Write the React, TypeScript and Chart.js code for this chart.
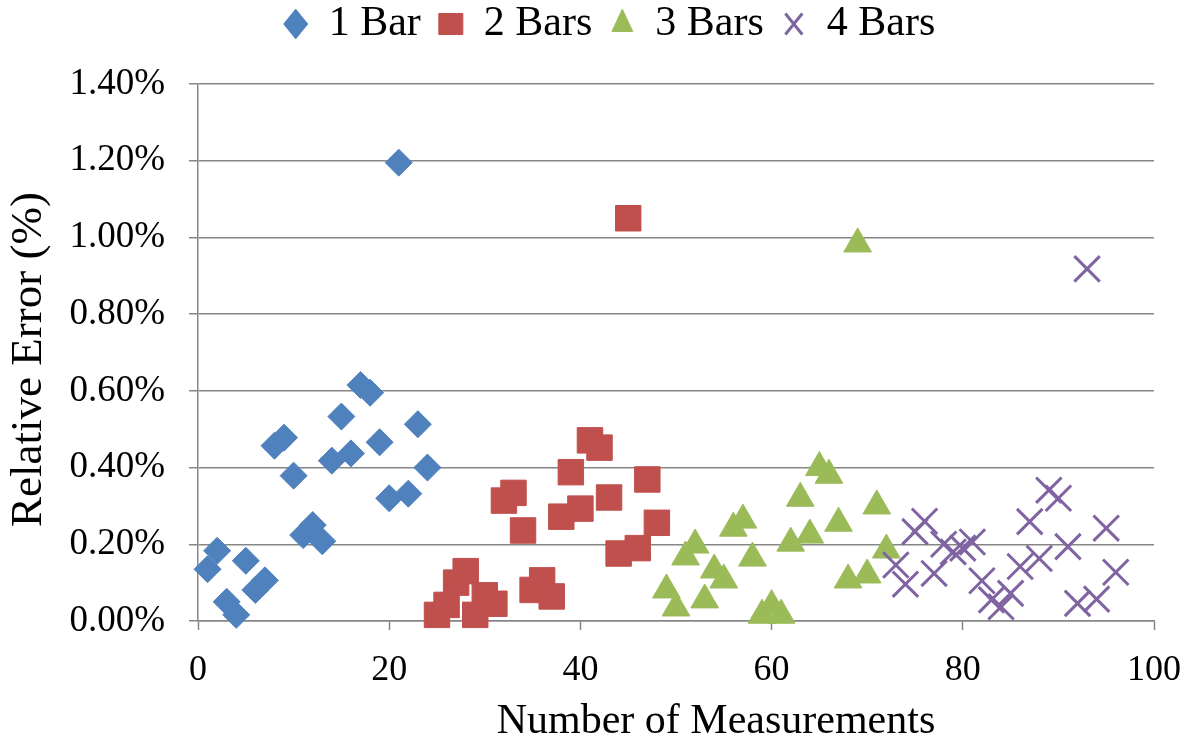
import React, { useEffect, useRef } from 'react';
import { Chart, registerables } from 'chart.js';

Chart.register(...registerables);

const seriesNames = ['1 Bar', '2 Bars', '3 Bars', '4 Bars'];

const bar1X = [1, 2, 3, 4, 5, 6, 7, 8, 9, 10, 11, 12, 13, 14, 15, 16, 17, 18, 19, 20, 21, 22, 23, 24];
const bar1Y = [0.135, 0.183, 0.05, 0.016, 0.157, 0.081, 0.106, 0.457, 0.478, 0.379, 0.224, 0.25, 0.208, 0.418, 0.533, 0.437, 0.615, 0.595, 0.466, 0.32, 1.195, 0.332, 0.513, 0.4];

const bar2X = [25, 26, 27, 28, 29, 30, 31, 32, 33, 34, 35, 36, 37, 38, 39, 40, 41, 42, 43, 44, 45, 46, 47, 48];
const bar2Y = [0.016, 0.042, 0.1, 0.13, 0.016, 0.067, 0.045, 0.314, 0.334, 0.236, 0.081, 0.106, 0.064, 0.272, 0.388, 0.293, 0.471, 0.452, 0.322, 0.176, 1.05, 0.19, 0.369, 0.256];

const bar3X = [49, 50, 51, 52, 53, 54, 55, 56, 57, 58, 59, 60, 61, 62, 63, 64, 65, 66, 67, 68, 69, 70, 71, 72];
const bar3Y = [0.081, 0.034, 0.167, 0.198, 0.055, 0.133, 0.107, 0.242, 0.263, 0.164, 0.015, 0.04, 0.015, 0.203, 0.32, 0.224, 0.4, 0.38, 0.255, 0.107, 0.983, 0.12, 0.3, 0.185];

const bar4X = [73, 74, 75, 76, 77, 78, 79, 80, 81, 82, 83, 84, 85, 86, 87, 88, 89, 90, 91, 92, 93, 94, 95, 96];
const bar4Y = [0.146, 0.096, 0.233, 0.26, 0.124, 0.2, 0.18, 0.19, 0.206, 0.105, 0.055, 0.037, 0.072, 0.142, 0.259, 0.163, 0.341, 0.32, 0.194, 0.046, 0.918, 0.057, 0.242, 0.127];

const xTickValues = [0, 20, 40, 60, 80, 100];
const yTickValues = [0, 0.2, 0.4, 0.6, 0.8, 1.0, 1.2, 1.4];

const FONT = '"Liberation Serif", "Times New Roman", "DejaVu Serif", serif';
const GRID = '#868686';
const BLUE = '#4F81BD';
const RED = '#C0504D';
const GREEN = '#9BBB59';
const PURPLE = '#8064A2';

const LEGEND_GAP = 29;
const LEGEND_SHIFT = 24;
const X_TITLE_SHIFT = 40;
const Y_TITLE_SHIFT = 7;

function shiftTitle(scale: any, dx: number, dy: number) {
  if (!scale || scale._titleShifted) return;
  const orig = scale.drawTitle.bind(scale);
  scale.drawTitle = () => {
    const ctx = scale.ctx;
    ctx.save();
    ctx.translate(dx, dy);
    orig();
    ctx.restore();
  };
  scale._titleShifted = true;
}

const layoutTweaks = {
  id: 'layoutTweaks',
  beforeInit(chart: any) {
    const legend = chart.legend;
    if (legend && !legend._patched) {
      const fit = legend.fit.bind(legend);
      legend.fit = () => {
        fit();
        legend.height += LEGEND_GAP;
      };
      legend._patched = true;
    }
  },
  afterLayout(chart: any) {
    const l = chart.legend;
    if (l) {
      l.left += LEGEND_SHIFT;
      l.right += LEGEND_SHIFT;
    }
  },
  beforeDraw(chart: any) {
    shiftTitle(chart.scales.x, X_TITLE_SHIFT, 0);
    shiftTitle(chart.scales.y, 0, Y_TITLE_SHIFT);
  },
};

function toPoints(xs: number[], ys: number[]) {
  return xs.map((x, i) => ({ x, y: ys[i] }));
}

function buildChart(canvas: HTMLCanvasElement) {
  return new Chart(canvas, {
    type: 'scatter',
    data: {
      datasets: [
        {
          label: seriesNames[0],
          data: toPoints(bar1X, bar1Y),
          pointStyle: 'rectRot',
          pointRadius: 13.5,
          backgroundColor: BLUE,
          borderColor: BLUE,
          borderWidth: 1,
          pointBackgroundColor: BLUE,
          pointBorderColor: BLUE,
          pointBorderWidth: 1,
          order: 4,
          clip: false,
        },
        {
          label: seriesNames[1],
          data: toPoints(bar2X, bar2Y),
          pointStyle: 'rect',
          pointRadius: 18,
          backgroundColor: RED,
          borderColor: RED,
          borderWidth: 1,
          pointBackgroundColor: RED,
          pointBorderColor: RED,
          pointBorderWidth: 1,
          order: 3,
          clip: false,
        },
        {
          label: seriesNames[2],
          data: toPoints(bar3X, bar3Y),
          pointStyle: 'triangle',
          pointRadius: 16,
          backgroundColor: GREEN,
          borderColor: GREEN,
          borderWidth: 1,
          pointBackgroundColor: GREEN,
          pointBorderColor: GREEN,
          pointBorderWidth: 1,
          order: 2,
          clip: false,
        },
        {
          label: seriesNames[3],
          data: toPoints(bar4X, bar4Y),
          pointStyle: 'crossRot',
          pointRadius: 18,
          backgroundColor: PURPLE,
          borderColor: PURPLE,
          borderWidth: 3,
          pointBackgroundColor: PURPLE,
          pointBorderColor: PURPLE,
          pointBorderWidth: 3,
          order: 1,
          clip: false,
        },
      ] as any,
    },
    options: {
      responsive: false,
      animation: false,
      events: [],
      layout: { padding: { top: -15, right: 29, bottom: 0, left: 0 } },
      plugins: {
        tooltip: { enabled: false },
        legend: {
          position: 'top',
          labels: {
            usePointStyle: true,
            pointStyleWidth: 24,
            boxHeight: 21,
            padding: 18,
            color: '#000',
            font: { family: FONT, size: 42 },
            sort: (a: any, b: any) => a.datasetIndex - b.datasetIndex,
          },
        },
      },
      scales: {
        x: {
          type: 'linear',
          position: 'bottom',
          min: 0,
          max: 100,
          afterBuildTicks: (s: any) => {
            s.ticks = xTickValues.map((v) => ({ value: v }));
          },
          ticks: {
            stepSize: 20,
            color: '#000',
            font: { family: FONT, size: 36 },
            padding: 19,
            maxRotation: 0,
            autoSkip: false,
          },
          grid: {
            drawOnChartArea: false,
            drawTicks: true,
            tickLength: 9,
            tickColor: GRID,
            tickWidth: 1.5,
            color: GRID,
          },
          border: { display: true, color: GRID, width: 1.5 },
          title: {
            display: true,
            text: 'Number of Measurements',
            color: '#000',
            font: { family: FONT, size: 42, lineHeight: 1.0 },
            padding: { top: 0, bottom: 2 },
          },
          afterFit: (s: any) => {
            s.height = 124;
          },
        },
        y: {
          type: 'linear',
          min: 0,
          max: 1.4,
          afterBuildTicks: (s: any) => {
            s.ticks = yTickValues.map((v) => ({ value: v }));
          },
          ticks: {
            stepSize: 0.2,
            color: '#000',
            font: { family: FONT, size: 37 },
            padding: 24,
            callback: (v: any) => Number(v).toFixed(2) + '%',
          },
          grid: {
            color: GRID,
            lineWidth: 1.5,
            drawTicks: true,
            tickLength: 9,
            tickColor: GRID,
            tickWidth: 1.5,
          },
          border: { display: true, color: GRID, width: 1.5 },
          title: {
            display: true,
            text: 'Relative Error (%)',
            color: '#000',
            font: { family: FONT, size: 45, lineHeight: 1.2 },
            padding: { top: 2, bottom: 0 },
          },
          afterFit: (s: any) => {
            s.width = 198;
          },
        },
      },
    } as any,
    plugins: [layoutTweaks],
  });
}

export default function App() {
  const ref = useRef<HTMLCanvasElement>(null);

  useEffect(() => {
    const canvas = ref.current;
    if (!canvas) return;
    let chart: Chart | null = null;
    let cancelled = false;
    const start = () => {
      if (cancelled || chart) return;
      chart = buildChart(canvas);
    };
    const fonts: any = (document as any).fonts;
    if (fonts && fonts.load) {
      Promise.all([fonts.load('36px "Liberation Serif"'), fonts.load('42px "Liberation Serif"')]).then(start, start);
    } else {
      start();
    }
    return () => {
      cancelled = true;
      if (chart) chart.destroy();
    };
  }, []);

  return (
    <div style={{ position: 'fixed', left: 0, top: 0, width: 1200, height: 745, background: '#fff' }}>
      <canvas ref={ref} width={1200} height={745} style={{ width: 1200, height: 745, display: 'block' }} />
    </div>
  );
}
